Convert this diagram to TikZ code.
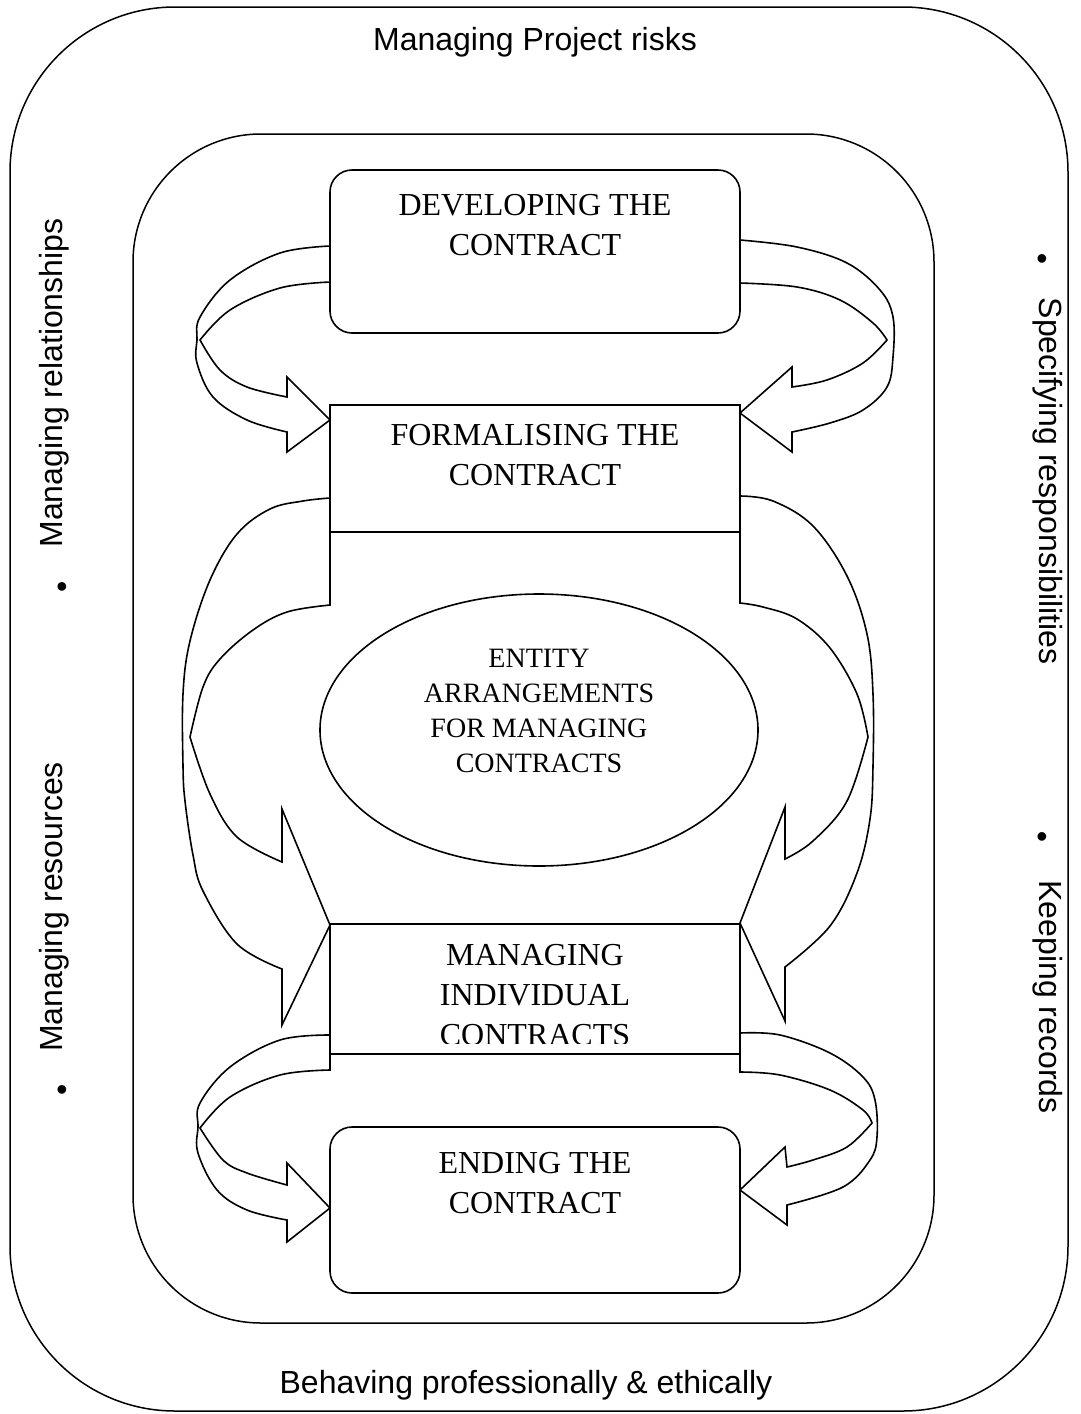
\documentclass[tikz,border=0pt]{standalone}
\usepackage{fontspec}
\setmainfont{Liberation Serif}
\newfontfamily\labelfont{Liberation Sans}
\usetikzlibrary{shapes.geometric}
\newcommand\bxfont{\fontsize{32}{40}\selectfont}
\newcommand\elfont{\fontsize{28}{35}\selectfont}
\newcommand\lbfont{\labelfont\fontsize{32}{38}\selectfont}
\begin{document}
\begin{tikzpicture}[x=1pt,y=-1pt,
  frame/.style={draw, line width=1.5pt},
  stagebox/.style={draw, line width=1.6pt, minimum width=410pt, inner sep=0pt},
  stagetext/.style={align=center, font=\bxfont, inner sep=0pt},
  blockarrow/.style={draw, line width=1.6pt, line join=miter},
  sidelabel/.style={font=\lbfont, inner sep=0pt, anchor=base},
  bul/.style={font=\lbfont, inner sep=0pt}]
\useasboundingbox (0,0) rectangle (1081,1414);
\fill[white] (0,0) rectangle (1081,1414);

% frames
\draw[frame, rounded corners=165pt] (10,7) rectangle (1068,1411);
\draw[frame, rounded corners=128pt] (133,134) rectangle (934,1323);

% frame labels
\node[sidelabel] (risk) at (535,50) {Managing Project risks};
\node[sidelabel] (ethic) at (526,1393) {Behaving professionally \& ethically};
\node[sidelabel, rotate=90] (rel) at (62,383) {Managing relationships};
\node[bul] (b1) at (62,590) {•};
\node[sidelabel, rotate=90] (res) at (62,907) {Managing resources};
\node[bul] (b2) at (62,1093) {•};
\node[sidelabel, rotate=-90] (spec) at (1039,481) {Specifying responsibilities};
\node[bul] (b3) at (1042,262) {•};
\node[sidelabel, rotate=-90] (keep) at (1039,997) {Keeping records};
\node[bul] (b4) at (1042,840) {•};

% stage boxes
\node[stagebox, minimum height=163pt, rounded corners=22pt] (dev) at (535,251.5) {};
\node[stagetext] (devt) at (535,225) {DEVELOPING THE\\CONTRACT};
\node[stagebox, minimum height=127pt] (form) at (535,468.5) {};
\node[stagetext] (formt) at (535,455) {FORMALISING THE\\CONTRACT};
\node[stagebox, minimum height=130pt] (mng) at (535,989) {};
\begin{scope}
\clip (330,924) rectangle (740,1043);
\node[stagetext] (mngt) at (535,995) {MANAGING\\INDIVIDUAL\\CONTRACTS};
\end{scope}
\node[stagebox, minimum height=166pt, rounded corners=22pt] (end) at (535,1210) {};
\node[stagetext] (endt) at (535,1183) {ENDING THE\\CONTRACT};

% entity ellipse
\node[draw, line width=1.6pt, ellipse, minimum width=438pt, minimum height=272pt, inner sep=0pt] (ent) at (539,730) {};
\node[align=center, font=\elfont, inner sep=0pt] (entt) at (539,711) {ENTITY\\ARRANGEMENTS\\FOR MANAGING\\CONTRACTS};

% top-left arrow
\draw[blockarrow] plot[smooth, tension=0.6] coordinates {(330,246) (280,253) (230,280) (200,317) (197,340) (197,363) (213,397) (247,420) (287,432)}
  -- (287,452) -- (330,420) -- (287,377)
  -- plot[smooth, tension=0.6] coordinates {(287,397) (247,387) (220,370) (200,340)}
  -- plot[smooth, tension=0.6] coordinates {(200,340) (230,310) (280,288) (330,282)} -- cycle;

% top-right arrow
\draw[blockarrow] plot[smooth, tension=0.6] coordinates {(740,240) (797,247) (847,263) (880,290) (893,317) (893,357) (887,387) (863,410) (830,423) (792,432)}
  -- (792,452) -- (740,413) -- (792,367)
  -- plot[smooth, tension=0.6] coordinates {(792,387) (827,380) (863,363) (887,340)}
  -- plot[smooth, tension=0.6] coordinates {(887,340) (873,323) (840,300) (797,287) (740,283)} -- cycle;

% middle-left arrow
\draw[blockarrow] plot[smooth, tension=0.6] coordinates {(330,498) (303,501) (270,509) (237,534) (210,580) (190,641) (183,694) (183,766) (185,801) (193,855) (203,891) (237,944) (282,969)}
  -- (282,1025) -- (330,925) -- (282,809)
  -- plot[smooth, tension=0.6] coordinates {(282,862) (237,837) (210,794) (190,737)}
  -- plot[smooth, tension=0.6] coordinates {(190,737) (203,687) (220,659) (253,630) (287,612) (330,605)} -- cycle;

% middle-right arrow
\draw[blockarrow] plot[smooth, tension=0.6] coordinates {(740,496) (773,501) (813,526) (847,576) (867,634) (873,694) (873,766) (870,819) (857,873) (830,926) (785,967)}
  -- (785,1021) -- (740,923) -- (785,807)
  -- plot[smooth, tension=0.6] coordinates {(785,859) (813,841) (847,801) (868,737)}
  -- plot[smooth, tension=0.6] coordinates {(868,737) (857,694) (830,648) (797,619) (763,607) (740,603)} -- cycle;

% bottom-left arrow
\draw[blockarrow] plot[smooth, tension=0.6] coordinates {(330,1035) (280,1040) (230,1067) (200,1103) (198,1127) (198,1153) (217,1190) (247,1210) (287,1220)}
  -- (287,1242) -- (330,1208) -- (287,1163)
  -- plot[smooth, tension=0.6] coordinates {(287,1185) (247,1173) (223,1160) (200,1128)}
  -- plot[smooth, tension=0.6] coordinates {(200,1128) (230,1097) (280,1075) (330,1070)} -- cycle;

% bottom-right arrow
\draw[blockarrow] plot[smooth, tension=0.6] coordinates {(740,1033) (780,1035) (830,1053) (863,1077) (875,1100) (877,1137) (870,1160) (843,1187) (787,1205)}
  -- (787,1225) -- (740,1190) -- (785,1147)
  -- plot[smooth, tension=0.6] coordinates {(787,1167) (813,1160) (847,1147) (872,1123)}
  -- plot[smooth, tension=0.6] coordinates {(872,1123) (863,1110) (830,1090) (780,1075) (740,1072)} -- cycle;
\end{tikzpicture}
\end{document}
